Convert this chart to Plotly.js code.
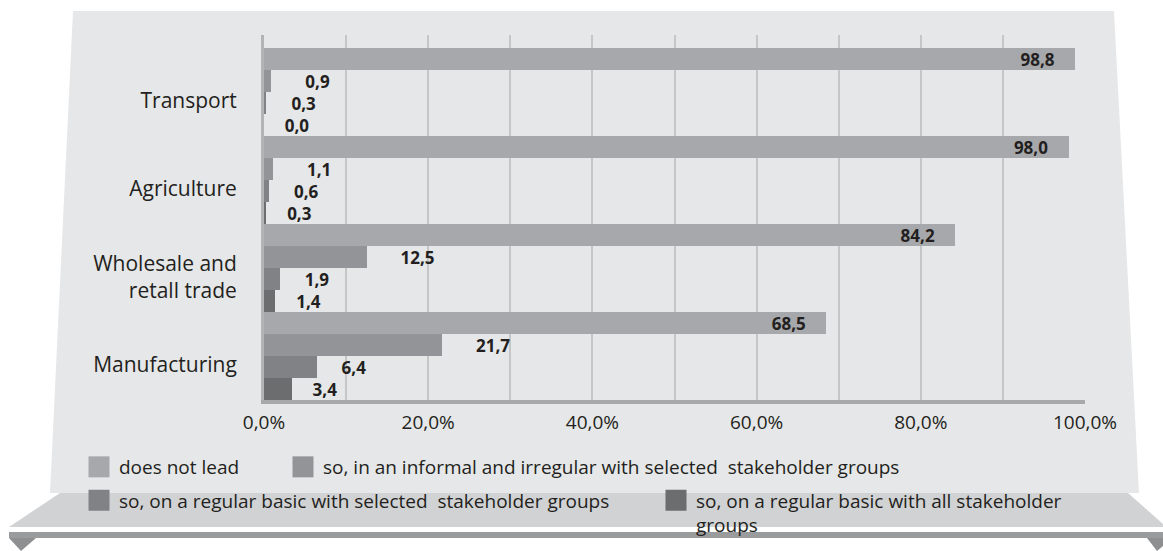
<!DOCTYPE html>
<html><head><meta charset="utf-8">
<script src="https://cdn.plot.ly/plotly-3.0.1.min.js"></script>
<style>html,body{margin:0;padding:0;background:#fff;} #chart{width:1163px;height:551px;}</style>
</head><body><div id="chart"></div>
<script>
// ---- data ----
const categories = ["Transport", "Agriculture", "Wholesale and<br>retall trade", "Manufacturing"];
const seriesNames = [
  "does not lead",
  "so, in an informal and irregular with selected\u00a0 stakeholder groups",
  "so, on a regular basic with selected\u00a0 stakeholder groups",
  "so, on a regular basic with all stakeholder<br>groups"
];
const doesNotLead       = [98.8, 98.0, 84.2, 68.5];
const informalIrregular = [0.9, 1.1, 12.5, 21.7];
const regularSelected   = [0.3, 0.6, 1.9, 6.4];
const regularAll        = [0.0, 0.3, 1.4, 3.4];
const xTickStep = 20;
const xGridStep = 10;

// ---- style ----
const seriesColors = ['#a7a8ab', '#939497', '#818285', '#6c6d6f'];
const textColor = '#231f20';
const FONT = 'Open Sans, sans-serif';
const NB = '\u00a0';
const W = 1163, H = 551;

// plot area in pixels (for decoration shapes)
const L = 264, R = 1085, T = 35, B = 400;
const px = X => (X - L) / (R - L);
const py = Y => (B - Y) / (B - T);
function poly(pts) { return 'M' + pts.map(p => px(p[0]).toFixed(5) + ',' + py(p[1]).toFixed(5)).join(' L') + ' Z'; }

const shapes = [
  {type:'path', xref:'paper', yref:'paper', layer:'below', line:{width:0}, fillcolor:'#d1d2d4',
   path: poly([[60,493],[1128,493],[1163,524],[1163,527],[9,527]])},
  {type:'path', xref:'paper', yref:'paper', layer:'below', line:{width:0}, fillcolor:'#e6e7e8',
   path: poly([[73,11],[1114,11],[1139,493],[50,493]])},
  {type:'path', xref:'paper', yref:'paper', layer:'below', line:{width:0}, fillcolor:'#9a9b9d',
   path: poly([[9,532],[1163,532],[1163,538],[9,538]])},
  {type:'path', xref:'paper', yref:'paper', layer:'below', line:{width:0}, fillcolor:'#8e8f91',
   path: poly([[9,538],[36,538],[21,551]])},
  {type:'path', xref:'paper', yref:'paper', layer:'below', line:{width:0}, fillcolor:'#8e8f91',
   path: poly([[1147,538],[1163,538],[1163,546],[1157,551]])}
];

const series = [doesNotLead, informalIrregular, regularSelected, regularAll];
const outsidePad = [0, 7, 5, 4];
const traces = [];
series.forEach((vals, i) => {
  traces.push({
    type:'bar', orientation:'h', y: categories, x: vals, name: seriesNames[i], showlegend:false,
    marker:{color: seriesColors[i]},
    texttemplate: i === 0 ? '%{x:.1f}' + NB.repeat(4) : NB.repeat(outsidePad[i]) + '%{x:.1f}',
    textposition: i === 0 ? 'inside' : 'outside',
    insidetextanchor:'end', constraintext:'none', textangle:0, cliponaxis:false,
    textfont:{family: FONT, size:17, color:textColor, weight:700},
    hoverinfo:'skip'
  });
});
// legend entries (drawn on a hidden overlay axis so they don't take bar slots)
series.forEach((vals, i) => {
  traces.push({
    type:'bar', orientation:'h', x:[null], y:[null], yaxis:'y2', name: seriesNames[i],
    legend: i === 0 ? 'legend' : 'legend' + (i + 1),
    marker:{color: seriesColors[i], line:{width:0}},
    hoverinfo:'skip'
  });
});

// legends positioned in container coordinates so they never shrink the plot area
function leg(cx, cy) {
  return {xref:'paper', yref:'container', x: px(cx - 18.5), y: (H - (cy - 19.5)) / H,
          xanchor:'left', yanchor:'top', orientation:'h', valign:'top',
          bgcolor:'rgba(0,0,0,0)', borderwidth:0, font:{family: FONT, size:19, color:textColor}};
}

const layout = {
  width:W, height:H,
  margin:{l:L, r:W - R, t:T, b:H - B, pad:0},
  paper_bgcolor:'#ffffff', plot_bgcolor:'rgba(0,0,0,0)',
  separators:', ',
  font:{family: FONT, color:textColor},
  barmode:'group', bargap:0, bargroupgap:0,
  xaxis:{range:[0,100], autorange:false, tickmode:'linear', tick0:0, dtick:xTickStep,
         tickformat:'.1f', ticksuffix:'%', showgrid:true, gridcolor:'#c5c6c8', gridwidth:2,
         minor:{tickmode:'linear', tick0:0, dtick:xGridStep, showgrid:true, gridcolor:'#c5c6c8', gridwidth:2},
         zeroline:false, showline:true, linecolor:'#a8a9ab', linewidth:4, automargin:false,
         ticks:'', tickfont:{family: FONT, size:19, color:textColor}, ticklabelstandoff:2, fixedrange:true},
  yaxis:{type:'category', categoryorder:'array', categoryarray:categories, range:[3.5, -0.648], autorange:false,
         showgrid:false, zeroline:false, showline:true, linecolor:'#b3b4b6', linewidth:3, automargin:false,
         ticks:'', tickfont:{family: FONT, size:21, color:textColor}, ticklabelstandoff:20, ticklabelshift:-9,
         fixedrange:true},
  yaxis2:{overlaying:'y', visible:false, range:[0,1], fixedrange:true},
  shapes: shapes,
  legend:  leg(97.5, 467.5),
  legend2: leg(301.5, 467.5),
  legend3: leg(97.5, 501),
  legend4: leg(674.5, 501),
  hovermode:false
};

Plotly.newPlot('chart', traces, layout, {displayModeBar:false, staticPlot:true}).then(gd => {
  // enlarge the legend swatches to the reference's square size
  gd.querySelectorAll('.legendpoints path').forEach(p => {
    const t = p.getAttribute('transform') || '';
    if (t.indexOf('scale') < 0) p.setAttribute('transform', t + ' scale(1.75)');
  });
});
</script>
</body></html>
